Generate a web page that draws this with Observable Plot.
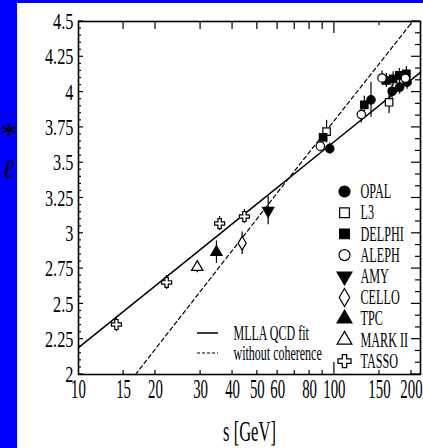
<!DOCTYPE html>
<html>
<head>
<meta charset="utf-8">
<script src="https://cdn.jsdelivr.net/npm/d3@7"></script>
<script src="https://cdn.jsdelivr.net/npm/@observablehq/plot@0.6"></script>
<style>
  html, body { margin: 0; padding: 0; width: 423px; height: 448px; overflow: hidden; background: #0000ff; }
  #panel { position: absolute; left: 17px; top: 3px; width: 406px; height: 445px; background: #fff; overflow: hidden; }
  .glyph { position: absolute; left: 0; width: 17px; text-align: center; font-family: "Liberation Serif", serif; color: #000; line-height: 1; }
</style>
</head>
<body>
<div class="glyph" style="top:120px;font-size:36px;line-height:30px">*</div>
<div class="glyph" style="top:156px;font-size:27px;line-height:27px;font-style:italic;font-weight:bold">ℓ</div>
<div id="panel"></div>
<script>
// Mean charged multiplicity measurements vs. centre-of-mass energy: [√s (GeV), value, error]
const opal   = [[95.9, 3.60, 0.04], [139.0, 3.945, 0.124], [168.1, 4.006, 0.05], [179.9, 4.035, 0.05], [192.3, 4.07, 0.05]];
const l3     = [[93.2, 3.72, 0.08], [163.6, 3.928, 0.08]];
const delphi = [[90.3, 3.68, 0.04], [130.9, 3.91, 0.06], [159.6, 4.082, 0.05], [169.6, 4.094, 0.05], [179.4, 4.118, 0.05], [191.1, 4.13, 0.05]];
const aleph  = [[88.1, 3.617, 0.04], [127.4, 3.841, 0.06], [153.5, 4.10, 0.05], [189.4, 4.098, 0.05]];
const amy    = [[55.1, 3.16, 0.10]];
const cello  = [[43.6, 2.93, 0.08]];
const tpc    = [[34.6, 2.866, 0.08]];
const mark2  = [[29.1, 2.76, 0.04]];
const tasso  = [[14.07, 2.354, 0.05], [22.1, 2.652, 0.05], [35.6, 3.069, 0.05], [44.5, 3.119, 0.05]];

// Theory curves: [√s (GeV), value]
const mllaFit = [[10, 2.19], [30, 2.886], [100, 3.65], [217, 4.14]];
const noCoherence = [[16.7, 2.0], [60, 3.29], [200, 4.49]];

// Axis tick labels
const xTickValues = [10, 15, 20, 30, 40, 50, 60, 80, 100, 150, 200];
const xTickLabels = ["10", "15", "20", "30", "40", "50", "60", "80", "100", "150", "200"];
const yTickValues = [2, 2.25, 2.5, 2.75, 3, 3.25, 3.5, 3.75, 4, 4.25, 4.5];
const yTickLabels = ["2", "2.25", "2.5", "2.75", "3", "3.25", "3.5", "3.75", "4", "4.25", "4.5"];

const experiments = ["OPAL", "L3", "DELPHI", "ALEPH", "AMY", "CELLO", "TPC", "MARK II", "TASSO"];
const experimentData = [opal, l3, delphi, aleph, amy, cello, tpc, mark2, tasso];
const markerStyles = {
  "OPAL":    {symbol: "circle",   fill: "black"},
  "L3":      {symbol: "square",   fill: "white"},
  "DELPHI":  {symbol: "square",   fill: "black"},
  "ALEPH":   {symbol: "circle",   fill: "white"},
  "AMY":     {symbol: "triangle", fill: "black", rotate: 180},
  "CELLO":   {symbol: "diamond",  fill: "white"},
  "TPC":     {symbol: "triangle", fill: "black"},
  "MARK II": {symbol: "triangle", fill: "white"},
  "TASSO":   {symbol: "cross",    fill: "white"}
};

const rows = experiments.flatMap((exp, k) =>
  experimentData[k].map(([E, v, err]) => ({exp, E, v, err})));

// Inward tick marks on all four sides of the frame
function frameTicks(index, {x, y}, values, {width, height, marginLeft, marginRight, marginTop, marginBottom}) {
  const L = marginLeft, R = width - marginRight, T = marginTop, B = height - marginBottom;
  const g = d3.create("svg:g").attr("stroke", "black").attr("stroke-width", 1.2);
  const seg = (x1, y1, x2, y2) => g.append("line").attr("x1", x1).attr("y1", y1).attr("x2", x2).attr("y2", y2);
  for (let i = 0; i <= 50; ++i) {
    const yy = y(2 + i * 0.05);
    seg(L, yy, L + (i % 5 === 0 ? 5 : 3), yy);
  }
  for (let i = 0; i <= 30; ++i) {
    const yy = y(2 + i * 0.25 / 3);
    seg(R, yy, R - (i % 3 === 0 ? 9 : 5), yy);
  }
  const marks = [15, 20, 30, 40, 50, 60, 70, 80, 90, 100, 150, 200];
  for (const e of marks) {
    const xx = x(e);
    seg(xx, B, xx, B - (e === 100 ? 12 : 4));
    seg(xx, T, xx, T + (e === 100 ? 12 : e < 100 ? 8 : 4));
  }
  return g.node();
}

// Line samples for the theory-curve legend
function curveKey(index, scales, values, {marginLeft, marginTop}) {
  const g = d3.create("svg:g").attr("stroke", "black").attr("fill", "none");
  const x0 = marginLeft + 119, x1 = marginLeft + 140;
  g.append("line").attr("x1", x0).attr("x2", x1).attr("y1", marginTop + 312).attr("y2", marginTop + 312).attr("stroke-width", 1.5);
  g.append("line").attr("x1", x0).attr("x2", x1).attr("y1", marginTop + 332).attr("y2", marginTop + 332).attr("stroke-width", 1.2).attr("stroke-dasharray", "3,2");
  return g.node();
}

// Font sizes double as keys for the horizontal condensing applied below
const FS_YTICK = 24, FS_XTICK = 28, FS_TITLE = 29, FS_LEGEND = 21, FS_KEY = 20;
const squeeze = {[FS_YTICK]: 0.68, [FS_XTICK]: 0.53, [FS_TITLE]: 0.57, [FS_LEGEND]: 0.58, [FS_KEY]: 0.6};

const marks = [
  Plot.line(mllaFit, {x: d => d[0], y: d => d[1], stroke: "black", strokeWidth: 1.5, curve: "monotone-x"}),
  Plot.line(noCoherence, {x: d => d[0], y: d => d[1], stroke: "black", strokeWidth: 1.2, strokeDasharray: "4,3"}),
  Plot.ruleX(rows, {x: "E", y1: d => d.v - d.err, y2: d => d.v + d.err, stroke: "black", strokeWidth: 1.2}),
  ...experiments.map(exp => {
    const s = markerStyles[exp];
    return Plot.dot(rows.filter(d => d.exp === exp), {
      x: "E", y: "v", symbol: s.symbol, fill: s.fill, stroke: "black", strokeWidth: 1.2,
      r: 4.2, rotate: s.rotate || 0
    });
  }),
  frameTicks,
  Plot.frame({stroke: "black", strokeWidth: 1.6}),
  Plot.text(yTickValues, {y: d => d, text: (d, i) => yTickLabels[i], frameAnchor: "left", dx: -5,
    textAnchor: "end", lineAnchor: "middle", fontSize: FS_YTICK}),
  Plot.text(xTickValues, {x: d => d, text: (d, i) => xTickLabels[i], frameAnchor: "bottom", dy: 15,
    lineAnchor: "middle", fontSize: FS_XTICK}),
  Plot.text(["s [GeV]"], {frameAnchor: "bottom", dy: 57, lineAnchor: "middle", fontSize: FS_TITLE}),
  // experiment legend
  ...experiments.map((exp, i) => {
    const s = markerStyles[exp];
    return Plot.dot([exp], {frameAnchor: "top-left", dx: 266, dy: 170 + 21.2 * i,
      symbol: s.symbol, fill: s.fill, stroke: "black", strokeWidth: 1.2, r: 5.5, rotate: s.rotate || 0});
  }),
  ...experiments.map((exp, i) =>
    Plot.text([exp], {frameAnchor: "top-left", dx: 282, dy: 170 + 21.2 * i, textAnchor: "start",
      lineAnchor: "middle", fontSize: FS_LEGEND})),
  curveKey,
  Plot.text(["MLLA QCD fit"], {frameAnchor: "top-left", dx: 155, dy: 312, textAnchor: "start", lineAnchor: "middle", fontSize: FS_KEY}),
  Plot.text(["without coherence"], {frameAnchor: "top-left", dx: 155, dy: 332, textAnchor: "start", lineAnchor: "middle", fontSize: FS_KEY})
];

const svg = Plot.plot({
  width: 406,
  height: 445,
  marginLeft: 61,
  marginRight: 3,
  marginTop: 18,
  marginBottom: 74,
  x: {type: "log", domain: [10, 217], axis: null},
  y: {domain: [2, 4.5], axis: null},
  style: {fontFamily: "Liberation Serif", background: "white", color: "black"},
  marks
});

// Condense the serif face horizontally around each label's anchor point
function fontSizeOf(el) {
  for (let n = el; n && n !== svg; n = n.parentNode) {
    const fs = n.getAttribute && n.getAttribute("font-size");
    if (fs) return parseFloat(fs);
  }
  return null;
}
svg.querySelectorAll("text").forEach(t => {
  const k = squeeze[fontSizeOf(t)];
  if (!k) return;
  const ax = t.hasAttribute("x") ? parseFloat(t.getAttribute("x")) || 0 : 0;
  const prev = t.getAttribute("transform") || "";
  t.setAttribute("transform", `${prev} translate(${ax},0) scale(${k},1) translate(${-ax},0)`);
});

document.getElementById("panel").appendChild(svg);
</script>
</body>
</html>
